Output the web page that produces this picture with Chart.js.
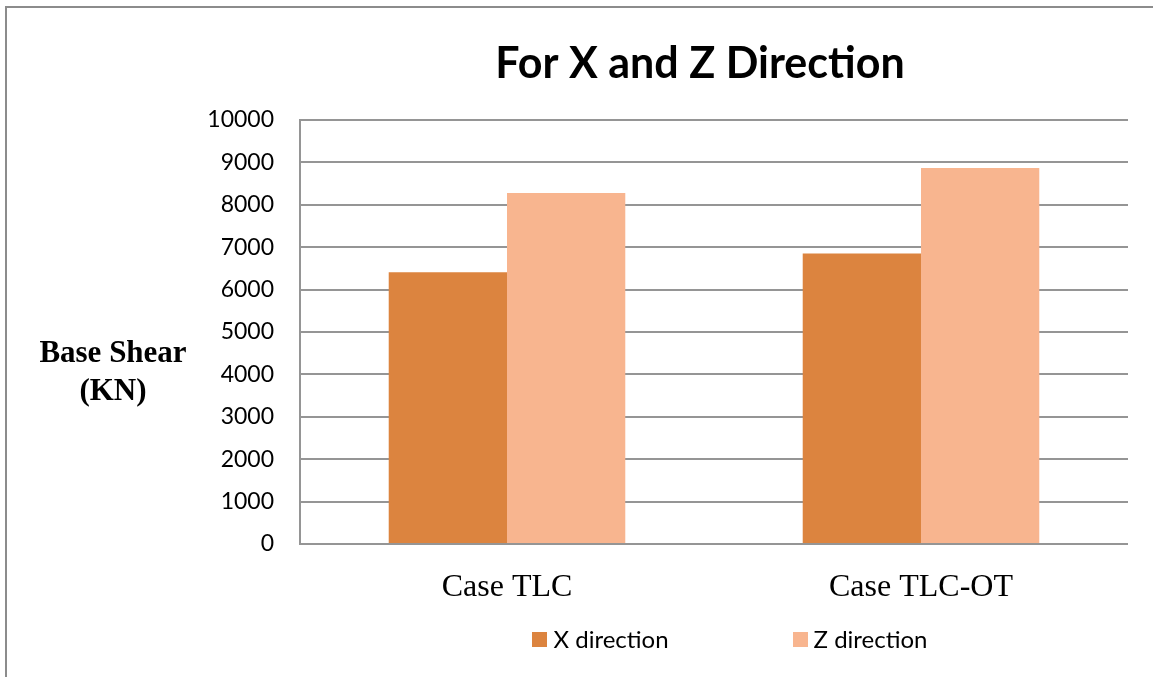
<!DOCTYPE html>
<html>
<head>
<meta charset="utf-8">
<title>Base Shear</title>
<script src="https://cdn.jsdelivr.net/npm/chart.js@4.4.0/dist/chart.umd.min.js"></script>
<style>
  html, body { margin: 0; padding: 0; background: #fff; overflow: hidden; }
  #wrap { position: relative; width: 1153px; height: 677px; }
</style>
</head>
<body>
<div id="wrap"><canvas id="chart"></canvas></div>
<script>
// Base shear per load case (kN)
const cases = ['Case TLC', 'Case TLC-OT'];
const xDirection = [6410, 6850];
const zDirection = [8280, 8870];
const seriesNames = ['X direction', 'Z direction'];
const seriesColors = ['#DC843F', '#F8B58F'];
const yMin = 0, yMax = 10000, yStep = 1000;
const chartTitle = 'For X and Z Direction';
const axisCaption = ['Base Shear', '(KN)'];

const gridGrey = '#959595';

// title, axis caption, legend and the outer frame
const decorations = {
  id: 'decorations',
  beforeDraw(chart) {
    const c = chart.ctx;
    c.save();
    c.fillStyle = '#fff';
    c.fillRect(0, 0, chart.width, chart.height);
    c.strokeStyle = '#8c8c8c';
    c.lineWidth = 2;
    c.beginPath();
    c.moveTo(6, chart.height);
    c.lineTo(6, 7);
    c.lineTo(chart.width, 7);
    c.stroke();
    c.restore();
  },
  afterDraw(chart) {
    const c = chart.ctx;
    c.save();
    c.fillStyle = '#000';
    c.textAlign = 'center';
    c.textBaseline = 'alphabetic';
    c.font = 'bold 43px Lato';
    c.fillText(chartTitle, 700, 78);
    c.font = 'bold 31px "Liberation Serif"';
    c.fillText(axisCaption[0], 113, 362);
    c.fillText(axisCaption[1], 113, 400);

    // legend row
    c.font = '24px Lato';
    c.textAlign = 'left';
    c.textBaseline = 'middle';
    const box = 15, gap = 6, between = 124;
    const sets = chart.data.datasets;
    const widths = sets.map(d => box + gap + c.measureText(d.label).width);
    let x = 730 - (widths.reduce((a, b) => a + b, 0) + between * (widths.length - 1)) / 2;
    sets.forEach((d, i) => {
      c.fillStyle = d.backgroundColor;
      c.fillRect(Math.round(x), 632, box, box);
      c.fillStyle = '#000';
      c.fillText(d.label, x + box + gap, 640);
      x += widths[i] + between;
    });
    c.restore();
  }
};

new Chart(document.getElementById('chart'), {
  type: 'bar',
  data: {
    labels: cases,
    datasets: [
      { label: seriesNames[0], data: xDirection, backgroundColor: seriesColors[0] },
      { label: seriesNames[1], data: zDirection, backgroundColor: seriesColors[1] }
    ]
  },
  options: {
    responsive: true,
    maintainAspectRatio: false,
    animation: false,
    layout: { padding: { left: 208, right: 25, top: 120, bottom: 79 } },
    datasets: { bar: { categoryPercentage: 0.5714, barPercentage: 1 } },
    plugins: {
      legend: { display: false },
      title: { display: false },
      tooltip: { enabled: false }
    },
    scales: {
      x: {
        grid: { display: false },
        border: { display: false },
        ticks: { color: '#000', padding: 16, font: { family: '"Liberation Serif"', size: 32 } },
        afterFit(s) { s.height = 54; }
      },
      y: {
        min: yMin,
        max: yMax,
        ticks: {
          stepSize: yStep,
          padding: 26,
          color: '#000',
          font: { family: 'Lato', size: 23 },
          callback: v => String(v)
        },
        grid: { color: gridGrey, lineWidth: 2, drawTicks: false },
        border: { color: gridGrey, width: 2 },
        afterFit(s) { s.width = 92; }
      }
    }
  },
  plugins: [decorations]
});
</script>
</body>
</html>
